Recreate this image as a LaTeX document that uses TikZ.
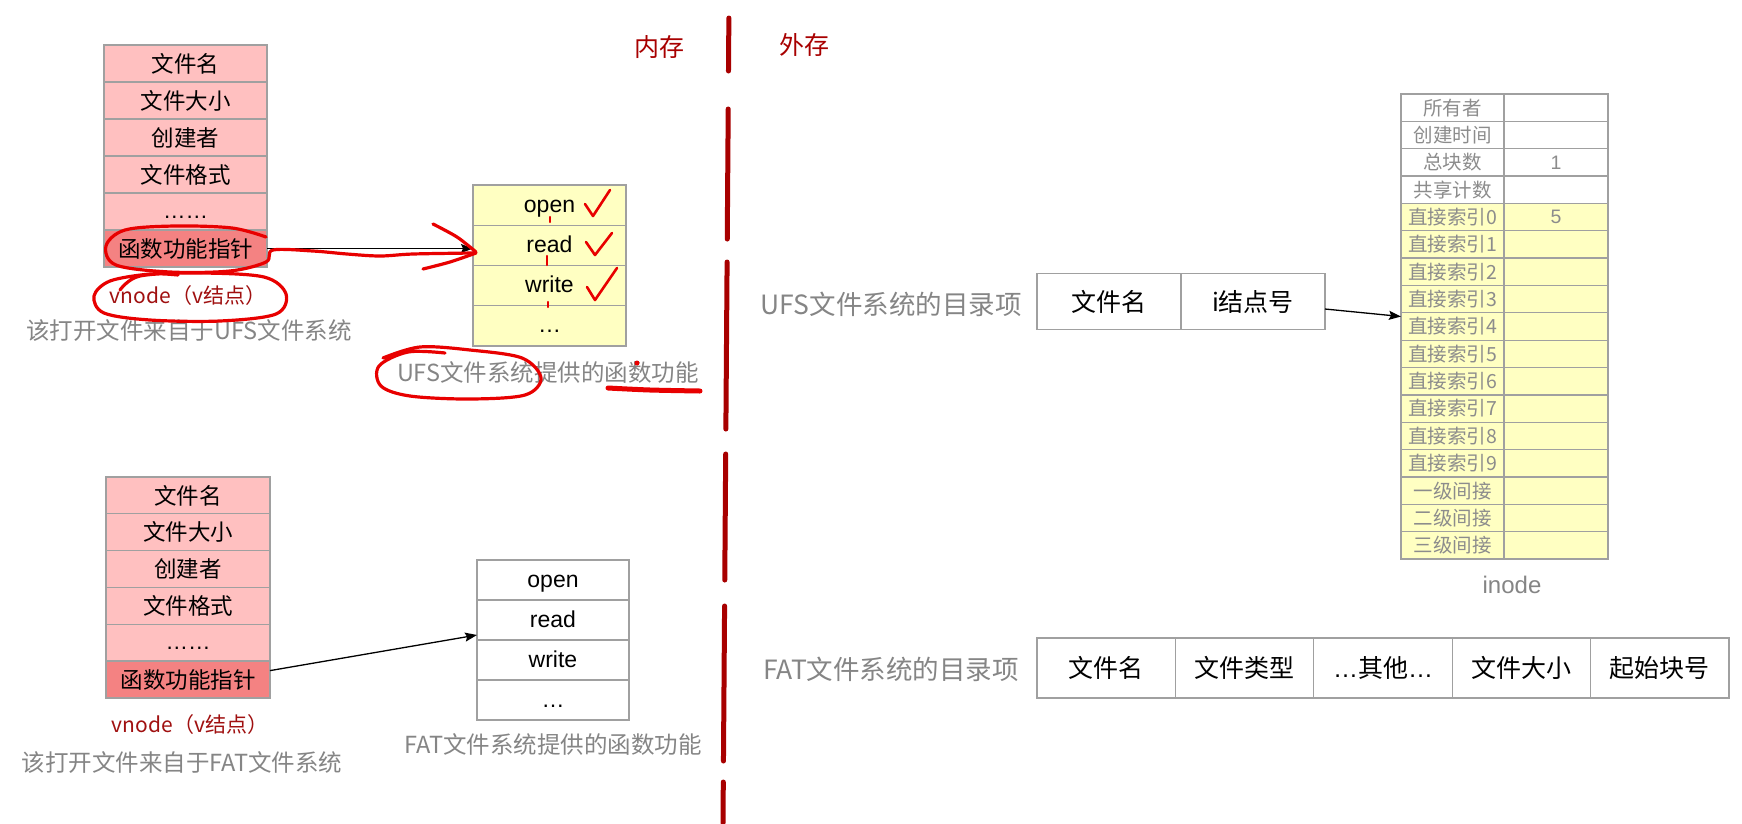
\documentclass[tikz,border=0pt]{standalone}
\usepackage{fontspec}
\setmainfont{Noto Sans CJK SC}
\newfontfamily\lat{Liberation Sans}
\usetikzlibrary{arrows.meta}
\newcommand\fsz[1]{\fontsize{#1}{#1}\selectfont}
\definecolor{bordergray}{HTML}{A0A0A0}
\definecolor{cpink}{HTML}{FFC0C0}
\definecolor{chot}{HTML}{F48282}
\definecolor{cyellow}{HTML}{FFFFC2}
\definecolor{capgray}{HTML}{858585}
\definecolor{tabgray}{HTML}{8C8C8C}
\definecolor{darkred}{HTML}{A80000}
\definecolor{vred}{HTML}{A01010}
\definecolor{penred}{HTML}{E80000}
\begin{document}
\begin{tikzpicture}[x=1pt,y=-1pt,
  cellbox/.style={draw=bordergray, line width=1.3pt, inner sep=0pt, outer sep=0pt, anchor=center},
  latbase/.style={text height=14pt, text depth=0pt},
  vcell/.style={cellbox, fill=cpink, minimum width=163pt, minimum height=37pt, font=\fsz{22.5}},
  vcellb/.style={cellbox, fill=cpink, minimum width=164pt, minimum height=36.83pt, font=\fsz{22.5}},
  fcell/.style={cellbox, latbase, fill=cyellow, minimum width=153pt, minimum height=40.25pt, font=\lat\fsz{23}},
  fcellb/.style={cellbox, latbase, fill=white, minimum width=152pt, minimum height=40pt, font=\lat\fsz{23}},
  ecell/.style={cellbox, fill=white, minimum width=144pt, minimum height=56pt, font=\fsz{25}},
  tcell/.style={cellbox, fill=white, minimum width=138.4pt, minimum height=60pt, font=\fsz{25}},
  ilcell/.style={cellbox, minimum width=103pt, minimum height=27.35pt, font=\fsz{19.5}, text=tabgray},
  ircell/.style={cellbox, minimum width=104pt, minimum height=27.35pt, font=\lat\fsz{19.5}, text=tabgray},
  capt/.style={font=\fsz{23.5}, text=capgray, inner sep=0pt, anchor=center},
  dirlab/.style={font=\fsz{26.5}, text=capgray, inner sep=0pt, anchor=center},
  vlabel/.style={font=\fsz{21}, text=vred, inner sep=0pt, anchor=center},
  memlabel/.style={font=\fsz{25}, text=darkred, inner sep=0pt, anchor=center},
  arr/.style={-{Stealth[length=12pt,width=9pt,inset=2pt]}, line width=1.3pt, black},
  divline/.style={draw=darkred, line width=5pt, line cap=round},
  redpen/.style={draw=penred, line width=3.2pt, line cap=round, line join=round}
]
\fill[white] (0,0) rectangle (1742,823);
\useasboundingbox (0,0) rectangle (1742,823);

% ---- dividing dashed line ----
\foreach \a/\b in {18/71,109/239,262/429,454/580,606/761,782/823}
  \draw[divline] ({729-6*\a/823},\a) -- ({729-6*\b/823},\b);
\node[memlabel] (nc) at (659,47) {内存};
\node[memlabel] (wc) at (804,45) {外存};

% ---- top vnode ----
\foreach \t [count=\i] in {文件名,文件大小,创建者,文件格式}
  \node[vcell] (va\i) at (185.5,{26.5+37*\i}) {\t};
\node[vcell, latbase] (va5) at (185.5,211.5) {\lat ……};
\node[vcell, fill=chot] (va6) at (185.5,248.5) {函数功能指针};
\node[vlabel] (vl1) at (188,296) {vnode（v结点）};
\node[capt] (cp1) at (189,331) {该打开文件来自于UFS文件系统};

% ---- top function table ----
\foreach \t [count=\i] in {open,read,write,…}
  \node[fcell] (fa\i) at (549.5,{205.1+40.25*(\i-1)}) {\t};
\node[capt] (cp2) at (548,373) {UFS文件系统提供的函数功能};
\draw[arr] (va6.east) -- (va6.east -| fa2.west);

% ---- bottom vnode ----
\foreach \t [count=\i] in {文件名,文件大小,创建者,文件格式}
  \node[vcellb] (vb\i) at (188,{495.4+36.83*(\i-1)}) {\t};
\node[vcellb, latbase] (vb5) at (188,642.7) {\lat ……};
\node[vcellb, fill=chot] (vb6) at (188,679.6) {函数功能指针};
\node[vlabel] (vl2) at (190,725) {vnode（v结点）};
\node[capt] (cp3) at (182,763) {该打开文件来自于FAT文件系统};

% ---- bottom function table ----
\foreach \t [count=\i] in {open,read,write,…}
  \node[fcellb] (fb\i) at (553,{580+40*(\i-1)}) {\t};
\node[capt] (cp4) at (553,745) {FAT文件系统提供的函数功能};
\draw[arr] ([yshift=9pt]vb6.east) -- ([yshift=-15pt]fb2.west);

% ---- UFS directory entry ----
\node[dirlab] (ufslab) at (891,304) {UFS文件系统的目录项};
\node[ecell] (u1) at (1109,301.5) {文件名};
\node[ecell] (u2) at (1253,301.5) {i结点号};

% ---- inode ----
\foreach \t/\v [count=\i] in {所有者/{},创建时间/{},总块数/1,共享计数/{}}{
  \node[ilcell, fill=white] (il\i) at (1452.5,{107.7+27.35*(\i-1)}) {\t};
  \node[ircell, fill=white] (ir\i) at (1556,{107.7+27.35*(\i-1)}) {\v};
}
\foreach \t/\v [count=\i from 5] in {直接索引0/5,直接索引1/{},直接索引2/{},直接索引3/{},直接索引4/{},直接索引5/{},直接索引6/{},直接索引7/{},直接索引8/{},直接索引9/{},一级间接/{},二级间接/{},三级间接/{}}{
  \node[ilcell, fill=cyellow] (il\i) at (1452.5,{107.7+27.35*(\i-1)}) {\t};
  \node[ircell, fill=cyellow] (ir\i) at (1556,{107.7+27.35*(\i-1)}) {\v};
}
\node[font=\lat\fsz{24}, text=capgray, inner sep=0pt] (inodelab) at (1512,585) {inode};
\draw[arr] ([yshift=-7.5pt]u2.east) -- ([yshift=10pt]il9.west);

% ---- FAT directory entry ----
\node[dirlab] (fatlab) at (891,669) {FAT文件系统的目录项};
\foreach \t [count=\i] in {文件名,文件类型,{{\lat …}其他{\lat …}},文件大小,起始块号}
  \node[tcell] (t\i) at ({1106.2+138.4*(\i-1)},668) {\t};

% ---- red hand annotations ----
\draw[redpen] plot[smooth, tension=0.55] coordinates {
  (266,237) (232,228) (175,226) (125,230) (106,246) (116,265) (170,272) (230,271)
  (266,262) (273,250) (313,251) (347,254) (380,256) (413,254) (474,253)};
\draw[redpen] plot[smooth, tension=0.5] coordinates {(433,224) (457,237) (476,252)};
\draw[redpen] plot[smooth, tension=0.5] coordinates {(476,253) (450,262) (423,269)};
\draw[redpen] plot[smooth, tension=0.55] coordinates {
  (120,290) (140,276) (200,273) (264,277) (286,294) (276,314) (220,321) (150,320)
  (104,313) (94,296) (110,281) (150,274) (178,275)};
\draw[redpen] plot[smooth, tension=0.55] coordinates {
  (383,358) (420,347) (470,350) (522,358) (541,378) (525,395) (470,399) (410,396)
  (381,386) (379,366) (408,352) (445,353)};
\draw[redpen, line width=5pt] plot[smooth] coordinates {(608,388) (650,390) (700,391)};
\fill[penred] (637,363) circle (2.5pt);
\draw[redpen, line width=2.6pt] (585,204) -- (593,216) -- (610,190);
\draw[redpen, line width=2.6pt] (586,242) -- (595,255) -- (612,233);
\draw[redpen, line width=2.6pt] (587,287) -- (595,300) -- (617,268);
\draw[redpen, line width=2.4pt] (550,217) -- (550,222);
\draw[redpen, line width=2.4pt] (547,256) -- (547,265);
\draw[redpen, line width=2.4pt] (548,302) -- (548,307);
\end{tikzpicture}
\end{document}
